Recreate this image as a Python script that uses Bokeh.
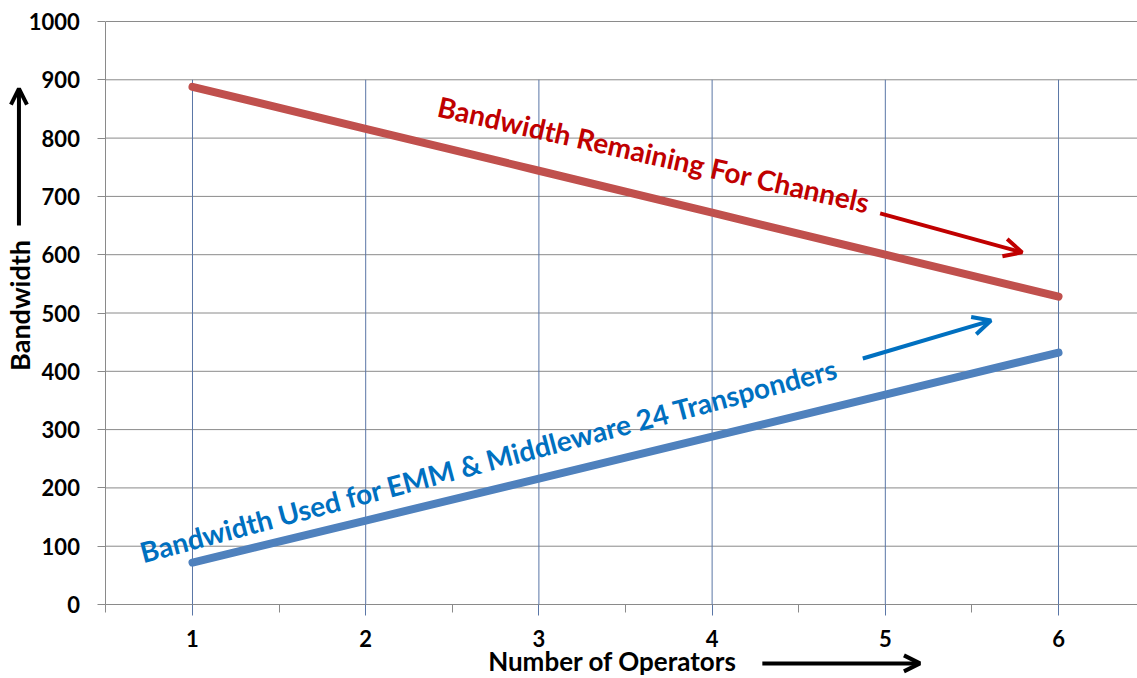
from bokeh.plotting import figure
from bokeh.models import Range1d, FixedTicker, Label, Arrow, OpenHead, ColumnDataSource
from bokeh.embed import file_html
from bokeh.resources import INLINE

# Bandwidth budget per number of operators (total 960)
operators = [1, 2, 3, 4, 5, 6]
remaining_for_channels = [888, 816, 744, 672, 600, 528]
used_for_emm = [72, 144, 216, 288, 360, 432]
y_ticks = [0, 100, 200, 300, 400, 500, 600, 700, 800, 900, 1000]
x_minor = [0.5, 1.5, 2.5, 3.5, 4.5, 5.5, 6.5]

FONT = "Lato"
GRID_GREY = "#8A8A8A"
GRID_BLUE = "#5A76A6"

X_LO, X_HI = -0.1085, 6.456
Y_LO, Y_HI = -126.9, 1036
AXIS_X = 0.5        # where the value axis crosses the category axis
VGRID_TOP = 900     # vertical grid lines stop a little under the top

src = ColumnDataSource(dict(x=operators, rem=remaining_for_channels, used=used_for_emm))

# The frame fills the whole canvas; the axes are pinned inside it so that the
# axis titles and their arrows can sit in the margins without being clipped.
p = figure(width=1137, height=678, output_backend="svg", toolbar_location=None,
           x_range=Range1d(X_LO, X_HI), y_range=Range1d(Y_LO, Y_HI),
           min_border=0)
p.outline_line_color = None
p.background_fill_color = "white"
p.xgrid.visible = False
p.ygrid.visible = False

# grid lines, drawn from the tick lists
n_y = len(y_ticks)
p.segment(x0=[AXIS_X] * n_y, y0=y_ticks, x1=[X_HI] * n_y, y1=y_ticks,
          line_color=GRID_GREY, line_width=1)
n_x = len(operators)
p.segment(x0=operators, y0=[0] * n_x, x1=operators, y1=[VGRID_TOP] * n_x,
          line_color=GRID_BLUE, line_width=1)

# y axis
p.yaxis.fixed_location = AXIS_X
p.yaxis.bounds = (0, 1000)
p.yaxis.ticker = FixedTicker(ticks=y_ticks)
p.yaxis.axis_line_color = GRID_GREY
p.yaxis.major_tick_line_color = GRID_GREY
p.yaxis.major_tick_out = 8
p.yaxis.major_tick_in = 0
p.yaxis.minor_tick_line_color = None
p.yaxis.major_label_standoff = 18
p.yaxis.major_label_text_font = FONT
p.yaxis.major_label_text_font_style = "bold"
p.yaxis.major_label_text_font_size = "22px"
p.yaxis.major_label_text_color = "black"

# x axis
p.xaxis.fixed_location = 0
p.xaxis.bounds = (AXIS_X, X_HI)
p.xaxis.ticker = FixedTicker(ticks=operators, minor_ticks=x_minor)
p.xaxis.axis_line_color = GRID_GREY
p.xaxis.major_tick_line_color = GRID_BLUE
p.xaxis.major_tick_out = 11
p.xaxis.major_tick_in = 0
p.xaxis.minor_tick_line_color = GRID_GREY
p.xaxis.minor_tick_out = 8
p.xaxis.minor_tick_in = 0
p.xaxis.major_label_standoff = 14
p.xaxis.major_label_text_font = FONT
p.xaxis.major_label_text_font_style = "bold"
p.xaxis.major_label_text_font_size = "22px"
p.xaxis.major_label_text_color = "black"

# series
p.line("x", "rem", source=src, line_color="#C0504D", line_width=8, line_cap="round")
p.line("x", "used", source=src, line_color="#4F81BD", line_width=8, line_cap="round")

# series annotations
p.add_layout(Label(x=2.42, y=856, text="Bandwidth Remaining For Channels", angle=-0.222,
                   text_font=FONT, text_font_style="bold", text_font_size="28px",
                   text_color="#C00000", text_align="left", text_baseline="alphabetic"))
p.add_layout(Arrow(x_start=4.97, y_start=671, x_end=5.79, y_end=604,
                   line_color="#C00000", line_width=4,
                   end=OpenHead(size=18, line_color="#C00000", line_width=4)))

p.add_layout(Label(x=0.70, y=89, text="Bandwidth Used for EMM & Middleware 24 Transponders",
                   angle=0.26, text_font=FONT, text_font_style="bold", text_font_size="28px",
                   text_color="#0070C0", text_align="left", text_baseline="alphabetic"))
p.add_layout(Arrow(x_start=4.87, y_start=422, x_end=5.61, y_end=487,
                   line_color="#0070C0", line_width=4,
                   end=OpenHead(size=18, line_color="#0070C0", line_width=4)))

# axis titles with arrows
p.add_layout(Label(x=3.425, y=-97, text="Number of Operators", text_font=FONT,
                   text_font_style="bold", text_font_size="26px", text_color="black",
                   text_align="center", text_baseline="middle"))
p.add_layout(Arrow(x_start=4.29, y_start=-101, x_end=5.20, y_end=-101,
                   line_color="black", line_width=4,
                   end=OpenHead(size=16, line_color="black", line_width=4)))

p.add_layout(Label(x=0.003, y=513, text="Bandwidth", angle=1.5708, text_font=FONT,
                   text_font_style="bold", text_font_size="27px", text_color="black",
                   text_align="center", text_baseline="middle"))
p.add_layout(Arrow(x_start=-0.002, y_start=650, x_end=-0.002, y_end=885,
                   line_color="black", line_width=4,
                   end=OpenHead(size=16, line_color="black", line_width=4)))

open("out.html", "w").write(file_html(p, INLINE))
